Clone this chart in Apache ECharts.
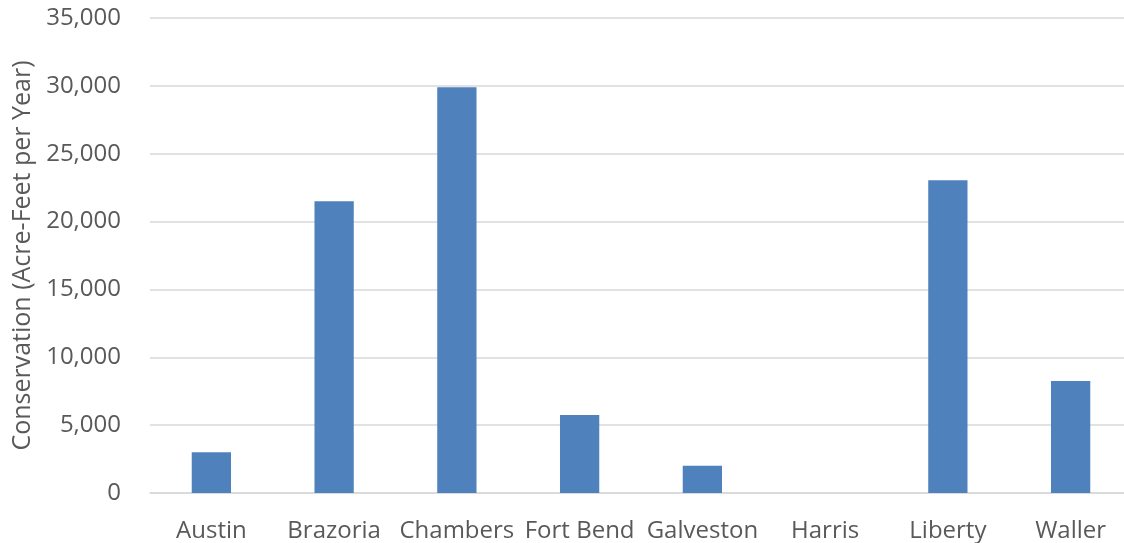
<!DOCTYPE html>
<html>
<head>
<meta charset="utf-8">
<script src="https://cdn.jsdelivr.net/npm/echarts@6/dist/echarts.min.js"></script>
<style>html,body{margin:0;padding:0;background:#fff;}#c{width:1124px;height:543px;}</style>
</head>
<body>
<div id="c"></div>
<script>
const categories = ["Austin", "Brazoria", "Chambers", "Fort Bend", "Galveston", "Harris", "Liberty", "Waller"];
const conservation = [3000, 21500, 29900, 5750, 2000, 0, 23050, 8250];
const yTicks = { min: 0, max: 35000, interval: 5000 };
const yAxisTitle = "Conservation (Acre-Feet per Year)";

const chart = echarts.init(document.getElementById('c'), null, { renderer: 'canvas' });
const font = "'Open Sans', sans-serif";
chart.setOption({
  animation: false,
  backgroundColor: '#ffffff',
  grid: { left: 150, width: 982, top: 18, bottom: 50, outerBoundsMode: 'none', containLabel: false },
  xAxis: {
    type: 'category',
    data: categories,
    axisLine: { show: true, lineStyle: { color: '#d9d9d9', width: 1.5 } },
    axisTick: { show: false },
    axisLabel: { color: '#595959', fontFamily: font, fontSize: 24, margin: 26, interval: 0 }
  },
  yAxis: {
    type: 'value',
    min: yTicks.min, max: yTicks.max, interval: yTicks.interval,
    name: yAxisTitle,
    nameLocation: 'middle',
    nameGap: 114,
    nameTextStyle: { color: '#595959', fontFamily: font, fontSize: 25 },
    axisLine: { show: false },
    axisTick: { show: false },
    splitLine: { lineStyle: { color: '#d9d9d9', width: 1.5 } },
    axisLabel: {
      color: '#595959', fontFamily: font, fontSize: 24, margin: 29,
      formatter: v => v.toLocaleString('en-US')
    }
  },
  series: [{
    type: 'bar',
    data: conservation,
    barWidth: '32%',
    itemStyle: { color: '#4f81bd' }
  }]
});
</script>
</body>
</html>
